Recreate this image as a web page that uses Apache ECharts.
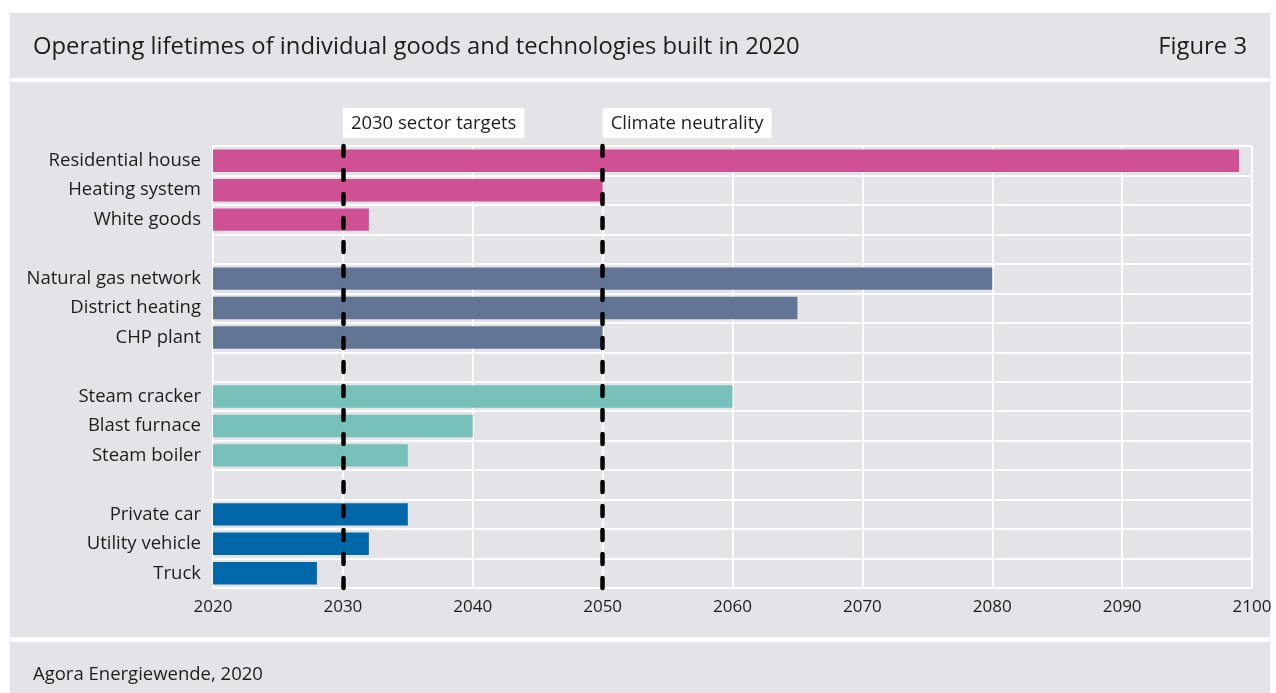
<!DOCTYPE html>
<html>
<head>
<meta charset="utf-8">
<script src="https://cdn.jsdelivr.net/npm/echarts@6/dist/echarts.min.js"></script>
<style>
html,body{margin:0;padding:0;background:#fff;}
#chart{width:1276px;height:693px;}
</style>
</head>
<body>
<div id="chart"></div>
<script>
var categories = ['Residential house','Heating system','White goods',' ',
  'Natural gas network','District heating','CHP plant','  ',
  'Steam cracker','Blast furnace','Steam boiler','   ',
  'Private car','Utility vehicle','Truck'];
var endYears = [2099,2050,2032,null, 2080,2065,2050,null, 2060,2040,2035,null, 2035,2032,2028];
var groups = ['buildings','buildings','buildings',null, 'gas','gas','gas',null, 'industry','industry','industry',null, 'transport','transport','transport'];
var xTicks = [2020,2030,2040,2050,2060,2070,2080,2090,2100];
var markers = [{year:2030,label:'2030 sector targets'},{year:2050,label:'Climate neutrality'}];

var groupColors = {buildings:'#d05094', gas:'#627594', industry:'#78c0ba', transport:'#0068a8'};
var FONT = '"Open Sans", "Noto Sans", sans-serif';
var TXT = '#1d1d1b';

var chart = echarts.init(document.getElementById('chart'));
var data = endYears.map(function(v,i){
  return {value: v, itemStyle:{color: groups[i] ? groupColors[groups[i]] : 'transparent'}};
});

chart.setOption({
  backgroundColor:'#ffffff',
  animation:false,
  graphic:[
    {type:'rect', shape:{x:10,y:13,width:1260,height:680}, style:{fill:'#e3e3e8'}, z:-10},
    {type:'rect', shape:{x:10,y:78,width:1260,height:4}, style:{fill:'#ffffff'}, z:-9},
    {type:'rect', shape:{x:10,y:637,width:1260,height:5}, style:{fill:'#ffffff'}, z:-9},
    {type:'text', left:33, top:35, style:{text:'Operating lifetimes of individual goods and technologies built in 2020', fill:TXT, font:'23.8px '+FONT}},
    {type:'text', right:29, top:35, style:{text:'Figure 3', fill:TXT, font:'23.8px '+FONT}},
    {type:'text', left:33, top:665, style:{text:'Agora Energiewende, 2020', fill:TXT, font:'18.5px '+FONT}}
  ],
  grid:{left:213, right:24, top:146, bottom:105, containLabel:false},
  xAxis:{
    type:'value', min:2020, max:2100, interval:10,
    axisLine:{show:false}, axisTick:{show:false},
    axisLabel:{color:TXT, fontSize:17, fontFamily:FONT, margin:11,
      formatter:function(v){ return xTicks.indexOf(v)>=0 ? String(v) : ''; }},
    splitLine:{show:true, lineStyle:{color:'#ffffff', width:2}}
  },
  yAxis:{
    type:'category', data:categories, inverse:true,
    axisLine:{show:false}, axisTick:{show:false},
    axisLabel:{color:TXT, fontSize:18.5, fontFamily:FONT, margin:12, interval:0},
    splitLine:{show:true, interval:0, lineStyle:{color:'#ffffff', width:2}}
  },
  series:[{
    type:'bar', data:data, barWidth:'76%', clip:true,
    markLine:{
      symbol:['none','none'], silent:true,
      lineStyle:{color:'#000000', width:4.5, type:[10,14], cap:'round'},
      label:{show:true, position:'start', formatter:function(p){return p.name;},
        color:TXT, fontSize:18.5, fontFamily:FONT, backgroundColor:'#ffffff',
        padding:[6,8,5,8], align:'left', verticalAlign:'bottom', distance:[-2, 8]},
      data: markers.map(function(m){ return {xAxis:m.year, name:m.label}; })
    }
  }]
});
</script>
</body>
</html>
